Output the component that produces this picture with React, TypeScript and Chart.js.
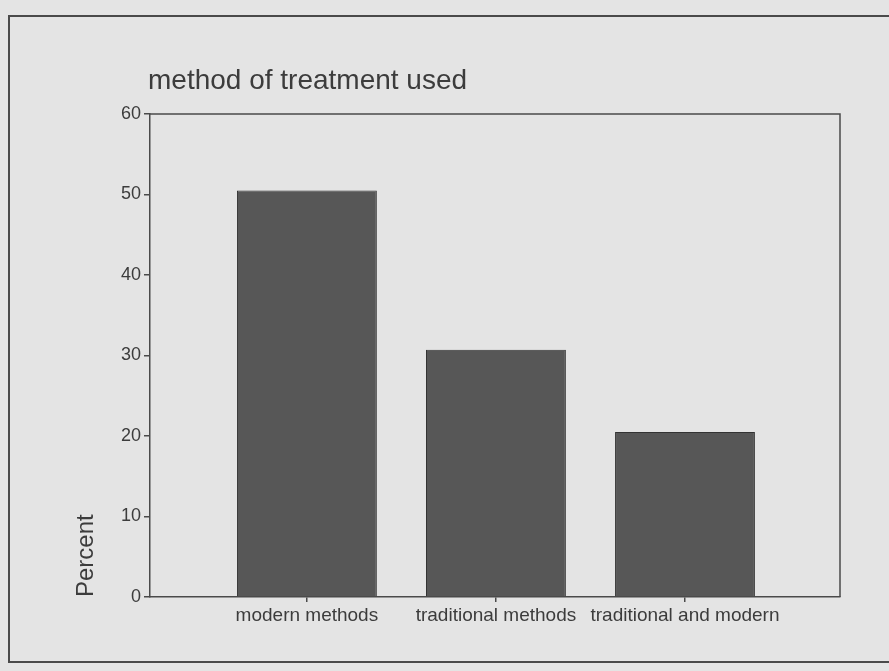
import React, { useEffect, useRef } from "react";
import { Chart, registerables } from "chart.js";

Chart.register(...registerables);

const chartTitle = "method of treatment used";
const categories = ["modern methods", "traditional methods", "traditional and modern"];
const percentValues = [50.5, 30.7, 20.5];
const yTickValues = [0, 10, 20, 30, 40, 50, 60];
const yAxisTitle = "Percent";

const FONT = "'Liberation Sans', Arial, sans-serif";
const TEXT = "#3c3c3c";
const LINE = "#4a4a4a";
const BG = "#e4e4e4";

export default function App() {
  const canvasRef = useRef<HTMLCanvasElement | null>(null);

  useEffect(() => {
    if (!canvasRef.current) return;

    const framePlugin = {
      id: "frameAndTitle",
      afterDraw(chart: any) {
        const { ctx, chartArea } = chart;
        ctx.save();
        ctx.strokeStyle = LINE;
        ctx.lineWidth = 1.5;
        ctx.beginPath();
        ctx.moveTo(chartArea.left, chartArea.top);
        ctx.lineTo(chartArea.right, chartArea.top);
        ctx.lineTo(chartArea.right, chartArea.bottom);
        ctx.stroke();
        ctx.fillStyle = TEXT;
        ctx.font = `28px ${FONT}`;
        ctx.textAlign = "left";
        ctx.textBaseline = "alphabetic";
        ctx.fillText(chartTitle, chartArea.left - 2, 89);
        ctx.restore();
      },
    };

    const chart = new Chart(canvasRef.current, {
      type: "bar",
      data: {
        datasets: [
          {
            label: yAxisTitle,
            data: categories.map((_, i) => ({ x: i, y: percentValues[i] })),
            backgroundColor: "#575757",
            borderColor: "#333333",
            borderWidth: 1,
            barPercentage: 0.74,
            categoryPercentage: 1,
          },
        ],
      },
      options: {
        responsive: false,
        animation: false,
        maintainAspectRatio: false,
        layout: { padding: { top: 114, right: 49, bottom: 0, left: 0 } },
        plugins: {
          legend: { display: false },
          title: { display: false },
          tooltip: { enabled: false },
        },
        scales: {
          x: {
            type: "linear",
            min: -0.83,
            max: 2.82,
            offset: false,
            afterFit(scale: any) {
              scale.height = 74;
            },
            afterBuildTicks(scale: any) {
              scale.ticks = categories.map((_, i) => ({ value: i }));
            },
            ticks: {
              autoSkip: false,
              maxRotation: 0,
              padding: 2,
              color: TEXT,
              font: { family: FONT, size: 19 },
              callback: (v: any) => categories[v as number] ?? "",
            },
            grid: {
              offset: false,
              drawOnChartArea: false,
              drawTicks: true,
              tickLength: 5,
              color: LINE,
              lineWidth: 1.5,
            },
            border: { display: true, color: LINE, width: 1.5 },
          },
          y: {
            min: 0,
            max: 60,
            afterFit(scale: any) {
              scale.width = 150;
            },
            afterBuildTicks(scale: any) {
              scale.ticks = yTickValues.map((v) => ({ value: v }));
            },
            ticks: {
              padding: 3,
              color: TEXT,
              font: { family: FONT, size: 18 },
            },
            grid: {
              drawOnChartArea: false,
              drawTicks: true,
              tickLength: 6,
              color: LINE,
              lineWidth: 1.5,
            },
            border: { display: true, color: LINE, width: 1.5 },
            title: {
              display: true,
              text: yAxisTitle,
              align: "start",
              color: TEXT,
              font: { family: FONT, size: 24 },
              padding: { top: 72, bottom: 0 },
            },
          },
        },
      },
      plugins: [framePlugin],
    });

    return () => chart.destroy();
  }, []);

  return (
    <div
      style={{
        position: "fixed",
        left: 0,
        top: 0,
        width: 889,
        height: 671,
        background: BG,
        overflow: "hidden",
      }}
    >
      <div
        style={{
          position: "absolute",
          left: 8,
          top: 15,
          width: 900,
          height: 648,
          border: `2px solid ${LINE}`,
          boxSizing: "border-box",
        }}
      />
      <canvas
        ref={canvasRef}
        width={889}
        height={671}
        style={{ position: "absolute", left: 0, top: 0, width: 889, height: 671 }}
      />
    </div>
  );
}
